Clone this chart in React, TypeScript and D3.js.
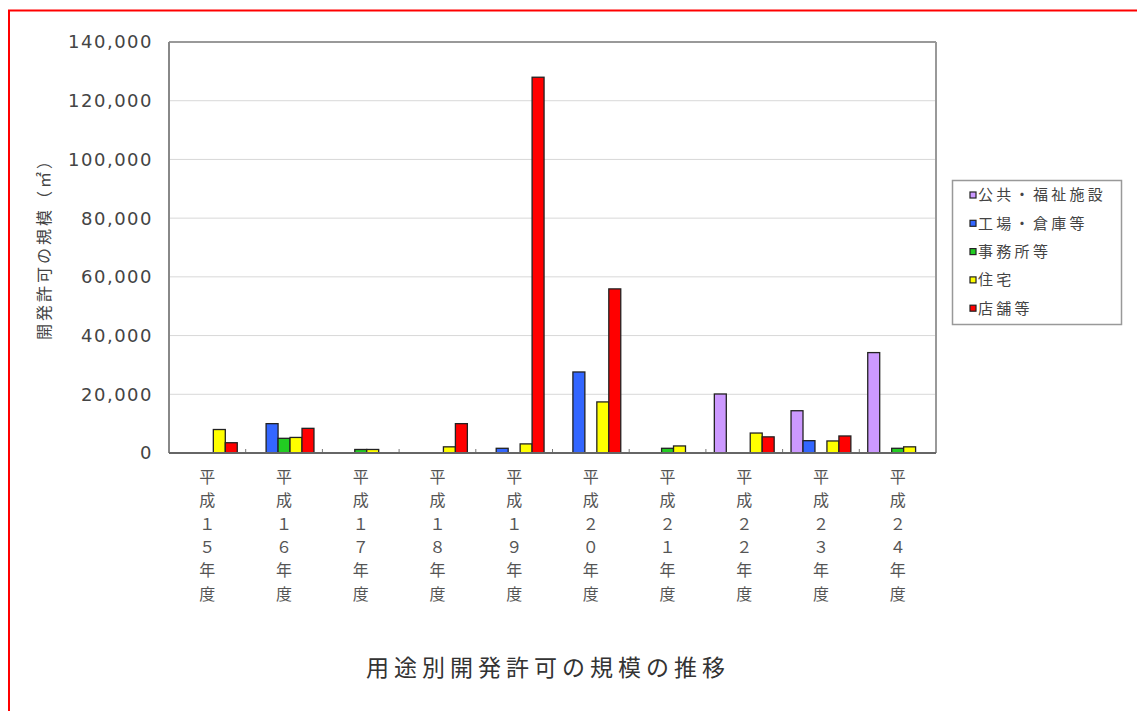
import React from "react";
import * as d3 from "d3";

const categories = ["平成１５年度", "平成１６年度", "平成１７年度", "平成１８年度", "平成１９年度", "平成２０年度", "平成２１年度", "平成２２年度", "平成２３年度", "平成２４年度"];
const seriesNames = ["公共・福祉施設", "工場・倉庫等", "事務所等", "住宅", "店舗等"];
const seriesColors = ["#CC99FF", "#3366FF", "#22CC22", "#FFFF00", "#FF0000"];
const publicValues = [0, 0, 0, 0, 0, 0, 0, 20100, 14400, 34200];
const factoryValues = [0, 10000, 0, 0, 1600, 27600, 0, 0, 4200, 0];
const officeValues = [0, 5000, 1200, 0, 0, 0, 1600, 0, 0, 1600];
const housingValues = [8000, 5300, 1200, 2100, 3100, 17400, 2400, 6800, 4100, 2100];
const shopValues = [3500, 8400, 0, 10000, 128000, 55900, 0, 5500, 5800, 0];
const yTicks = [0, 20000, 40000, 60000, 80000, 100000, 120000, 140000];
const yTitle = "開発許可の規模（㎡）";
const chartTitle = "用途別開発許可の規模の推移";

const allSeries = [publicValues, factoryValues, officeValues, housingValues, shopValues];

const FONT = "'Noto Sans CJK JP', 'Noto Sans', sans-serif";

export default function App() {
  const left = 169, right = 936, top = 42, bottom = 453;
  const x0 = d3.scaleBand<string>().domain(categories).range([left, right]).padding(0);
  const groupW = x0.bandwidth() * 0.78;
  const x1 = d3.scaleBand<number>().domain(d3.range(seriesNames.length)).range([0, groupW]).padding(0);
  const y = d3.scaleLinear().domain([0, 140000]).range([bottom, top]);
  const fmt = d3.format(",");

  return (
    <div style={{ position: "absolute", left: 0, top: 0 }}>
      <svg width={1137} height={711} style={{ display: "block", background: "#fff" }}>
        <rect x={9} y={10.5} width={1200} height={800} fill="none" stroke="#FF0000" strokeWidth={2} />
        {/* gridlines */}
        {yTicks.filter(t => t > 0 && t < 140000).map(t => (
          <line key={t} x1={left} x2={right} y1={y(t)} y2={y(t)} stroke="#d8d8d8" strokeWidth={1} />
        ))}
        {/* plot frame */}
        <line x1={left} x2={right} y1={top} y2={top} stroke="#999" strokeWidth={2} />
        <line x1={right} x2={right} y1={top} y2={bottom} stroke="#999" strokeWidth={2} />
        {/* category ticks */}
        {categories.map((c, i) => (
          <line key={"tk" + i} x1={x0(c)!} x2={x0(c)!} y1={bottom} y2={bottom - 4} stroke="#777" strokeWidth={1} />
        ))}
        {/* bars */}
        {categories.map((c, ci) => (
          <g key={c} transform={`translate(${x0(c)! + (x0.bandwidth() - groupW) / 2},0)`}>
            {allSeries.map((vals, si) => vals[ci] > 0 ? (
              <rect key={si} x={x1(si)!} y={y(vals[ci])} width={x1.bandwidth()} height={bottom - y(vals[ci])}
                fill={seriesColors[si]} stroke="#222" strokeWidth={1.3} />
            ) : null)}
          </g>
        ))}
        {/* axes */}
        <line x1={left} x2={left} y1={top} y2={bottom} stroke="#888" strokeWidth={2} />
        <line x1={left} x2={right} y1={bottom} y2={bottom} stroke="#666" strokeWidth={2} />
        {/* y tick labels */}
        {yTicks.map(t => (
          <text key={"yl" + t} x={153} y={y(t)} dy="0.36em" textAnchor="end" fontFamily="'DejaVu Sans', sans-serif"
            fontSize={18} letterSpacing={1.5} fill="#444">{fmt(t)}</text>
        ))}
        {/* y title */}
        <text transform={`translate(50,245) rotate(-90)`} textAnchor="middle" fontFamily={FONT} fontSize={16}
          letterSpacing={3} fill="#444">{yTitle}</text>
        {/* x labels */}
        {categories.map(c => (
          <text key={"xl" + c} x={x0(c)! + x0.bandwidth() / 2} y={483} textAnchor="middle" fontFamily={FONT}
            fontSize={16} fill="#555">
            {Array.from(c).map((ch, k) => (
              <tspan key={k} x={x0(c)! + x0.bandwidth() / 2} y={483 + k * 23.3}>{ch}</tspan>
            ))}
          </text>
        ))}
        {/* legend */}
        <rect x={952.5} y={180.5} width={169} height={144} fill="#fff" stroke="#999" strokeWidth={1.5} />
        {seriesNames.map((s, i) => (
          <g key={s} transform={`translate(970,${195 + i * 28.3})`}>
            <rect x={0} y={-3} width={6} height={6} fill={seriesColors[i]} stroke="#222" strokeWidth={1.2} />
            <text x={8} y={0} dy="0.36em" fontFamily={FONT} fontSize={15} letterSpacing={3.3} fill="#444">{s}</text>
          </g>
        ))}
        {/* title */}
        <text x={548} y={668} dy="0.36em" textAnchor="middle" fontFamily={FONT} fontSize={23} letterSpacing={5}
          fill="#333">{chartTitle}</text>
      </svg>
    </div>
  );
}
